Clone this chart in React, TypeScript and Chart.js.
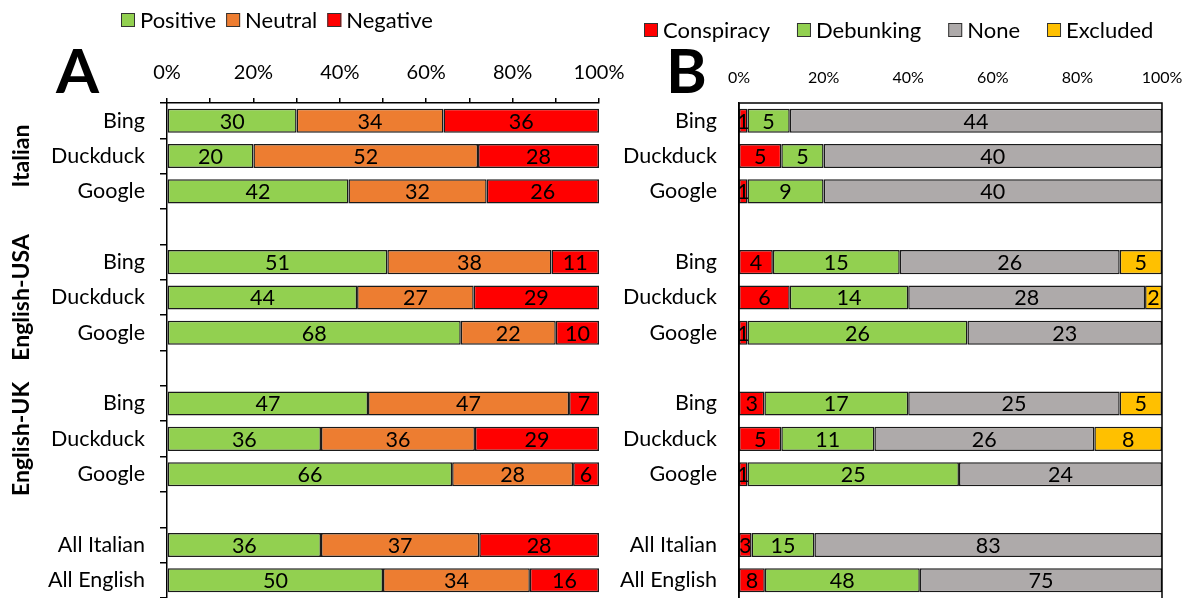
import React, { useEffect, useRef } from "react";
import { Chart, registerables } from "chart.js";

Chart.register(...registerables);

const FONT = "Lato";

const categories = [
  "Bing", "Duckduck", "Google", "",
  "Bing", "Duckduck", "Google", "",
  "Bing", "Duckduck", "Google", "",
  "All Italian", "All English",
];
const groupNames = ["Italian", "English-USA", "English-UK"];
const groupStarts = [0, 4, 8];

// Panel A: sentiment (%)
const positive = [30, 20, 42, null, 51, 44, 68, null, 47, 36, 66, null, 36, 50];
const neutral = [34, 52, 32, null, 38, 27, 22, null, 47, 36, 28, null, 37, 34];
const negative = [36, 28, 26, null, 11, 29, 10, null, 7, 29, 6, null, 28, 16];

// Panel B: content (counts)
const conspiracy = [1, 5, 1, null, 4, 6, 1, null, 3, 5, 1, null, 3, 8];
const debunking = [5, 5, 9, null, 15, 14, 26, null, 17, 11, 25, null, 15, 48];
const noneVals = [44, 40, 40, null, 26, 28, 23, null, 25, 26, 24, null, 83, 75];
const excluded = [0, 0, 0, null, 5, 2, 0, null, 5, 8, 0, null, 0, 0];

const percentTicks = [0, 20, 40, 60, 80, 100];

const GREEN = "#92D050";
const ORANGE = "#ED7D31";
const RED = "#FF0000";
const GRAY = "#AEAAAA";
const YELLOW = "#FFC000";
const EDGE = "#1a1a1a";

type Series = (number | null)[];

function toPercent(series: Series[]): Series[] {
  return series.map((s) =>
    s.map((v, i) => {
      if (v == null) return null;
      const tot = series.reduce((a, t) => a + (t[i] ?? 0), 0);
      return tot ? (v / tot) * 100 : 0;
    })
  );
}

const decorPlugin = {
  id: "decor",
  afterDatasetsDraw(chart: any, _args: any, opts: any) {
    const ctx = chart.ctx;
    ctx.save();
    ctx.font = `${opts.valueSize}px ${FONT}`;
    ctx.fillStyle = "#000";
    ctx.textAlign = "center";
    ctx.textBaseline = "middle";
    chart.data.datasets.forEach((ds: any, di: number) => {
      const meta = chart.getDatasetMeta(di);
      meta.data.forEach((el: any, i: number) => {
        const v = ds.rawValues[i];
        if (v == null || v === 0) return;
        const p = el.getProps(["x", "base", "y"], true);
        ctx.fillText(String(v), (p.x + p.base) / 2, p.y + 1);
      });
    });
    ctx.restore();
  },
  afterDraw(chart: any, _args: any, opts: any) {
    const ctx = chart.ctx;
    const area = chart.chartArea;
    ctx.save();
    if (opts.frame) {
      ctx.strokeStyle = "#000";
      ctx.lineWidth = 1.5;
      ctx.strokeRect(area.left, area.top, area.right - area.left, area.bottom - area.top + 2);
    }
    // big panel letter
    ctx.fillStyle = "#000";
    ctx.font = `bold ${opts.letterSize}px ${FONT}`;
    ctx.textAlign = "left";
    ctx.textBaseline = "alphabetic";
    ctx.fillText(opts.letter, opts.letterX, opts.letterY);
    // legend
    ctx.font = `${opts.legendSize}px ${FONT}`;
    ctx.textBaseline = "middle";
    let x = opts.legendX;
    const y = opts.legendY;
    const box = opts.legendBox;
    chart.data.datasets.forEach((ds: any) => {
      ctx.fillStyle = ds.backgroundColor;
      ctx.fillRect(x, y - box / 2, box, box);
      ctx.strokeStyle = "#333";
      ctx.lineWidth = 1;
      ctx.strokeRect(x + 0.5, y - box / 2 + 0.5, box - 1, box - 1);
      ctx.fillStyle = "#000";
      ctx.fillText(ds.label, x + box + opts.legendTextGap, y + 1);
      x += box + opts.legendTextGap + ctx.measureText(ds.label).width + opts.legendItemGap;
    });
    // vertical group labels
    if (opts.groups) {
      const yScale = chart.scales.y;
      ctx.font = `bold ${opts.groupSize}px ${FONT}`;
      ctx.textAlign = "center";
      ctx.textBaseline = "middle";
      ctx.fillStyle = "#000";
      groupNames.forEach((g, gi) => {
        const yc = yScale.getPixelForValue(groupStarts[gi] + 1);
        ctx.save();
        ctx.translate(opts.groupX, yc);
        ctx.rotate(-Math.PI / 2);
        ctx.fillText(g, 0, 0);
        ctx.restore();
      });
    }
    ctx.restore();
  },
};

function makeConfig(
  labels: string[],
  colors: string[],
  series: Series[],
  panel: "A" | "B"
): any {
  const pct = toPercent(series);
  const isA = panel === "A";
  return {
    type: "bar",
    data: {
      labels: categories,
      datasets: series.map((s, i) => ({
        label: labels[i],
        data: pct[i],
        rawValues: s,
        backgroundColor: colors[i],
        borderColor: EDGE,
        borderWidth: 1.5,
        borderSkipped: false,
        barPercentage: 0.68,
        categoryPercentage: 1,
      })),
    },
    plugins: [decorPlugin],
    options: {
      animation: false,
      responsive: false,
      devicePixelRatio: 1,
      indexAxis: "y",
      layout: { padding: { left: 0, right: isA ? 41 : 30, top: 0, bottom: 0 } },
      scales: {
        x: {
          type: "linear",
          position: "top",
          stacked: true,
          min: 0,
          max: 100,
          afterFit: (s: any) => {
            s.height = 103;
            s.paddingLeft = 0;
            s.paddingRight = 0;
          },
          afterBuildTicks: (s: any) => {
            if (!isA) s.ticks = percentTicks.map((v) => ({ value: v }));
          },
          ticks: {
            stepSize: 10,
            autoSkip: false,
            maxRotation: 0,
            color: "#000",
            padding: isA ? 13 : 16,
            font: { family: FONT, size: isA ? 20 : 16 },
            callback: (v: number) => (v % 20 === 0 ? `${v}%` : ""),
          },
          grid: {
            display: isA,
            drawOnChartArea: false,
            drawTicks: isA,
            tickLength: 5,
            color: "#000",
            lineWidth: 1.5,
          },
          border: { display: isA, color: "#000", width: 1.5 },
        },
        y: {
          type: "category",
          stacked: true,
          offset: true,
          afterFit: (s: any) => {
            s.width = isA ? 167 : 139;
            s.paddingTop = 0;
            s.paddingBottom = 0;
          },
          ticks: {
            autoSkip: false,
            color: "#000",
            padding: isA ? 15 : 22,
            font: { family: FONT, size: 21.5 },
          },
          grid: {
            display: isA,
            offset: true,
            drawOnChartArea: false,
            drawTicks: isA,
            tickLength: 7,
            color: "#000",
            lineWidth: 1.5,
          },
          border: { display: true, color: "#000", width: 1.5 },
        },
      },
      plugins: {
        legend: { display: false },
        tooltip: { enabled: false },
        decor: isA
          ? {
              valueSize: 21.5,
              frame: false,
              letter: "A",
              letterSize: 62,
              letterX: 56,
              letterY: 93,
              legendSize: 22,
              legendBox: 14,
              legendX: 121,
              legendY: 20,
              legendTextGap: 5,
              legendItemGap: 10,
              groups: true,
              groupSize: 23,
              groupX: 22,
            }
          : {
              valueSize: 21.5,
              frame: true,
              letter: "B",
              letterSize: 62,
              letterX: 66,
              letterY: 93,
              legendSize: 22,
              legendBox: 14,
              legendX: 44,
              legendY: 30,
              legendTextGap: 5,
              legendItemGap: 27,
              groups: false,
            },
      },
    },
  };
}

function Panel(props: {
  left: number;
  width: number;
  panel: "A" | "B";
  labels: string[];
  colors: string[];
  series: Series[];
}) {
  const ref = useRef<HTMLCanvasElement | null>(null);
  useEffect(() => {
    if (!ref.current) return;
    const cfg = makeConfig(props.labels, props.colors, props.series, props.panel);
    const chart = new Chart(ref.current, cfg);
    return () => chart.destroy();
  }, []);
  return (
    <canvas
      ref={ref}
      width={props.width}
      height={598}
      style={{
        position: "absolute",
        left: props.left,
        top: 0,
        width: props.width,
        height: 598,
      }}
    />
  );
}

export default function App() {
  return (
    <div
      style={{
        position: "fixed",
        left: 0,
        top: 0,
        width: 1192,
        height: 598,
        background: "#fff",
        overflow: "hidden",
      }}
    >
      <Panel
        left={0}
        width={640}
        panel="A"
        labels={["Positive", "Neutral", "Negative"]}
        colors={[GREEN, ORANGE, RED]}
        series={[positive, neutral, negative]}
      />
      <Panel
        left={600}
        width={592}
        panel="B"
        labels={["Conspiracy", "Debunking", "None", "Excluded"]}
        colors={[RED, GREEN, GRAY, YELLOW]}
        series={[conspiracy, debunking, noneVals, excluded]}
      />
    </div>
  );
}
